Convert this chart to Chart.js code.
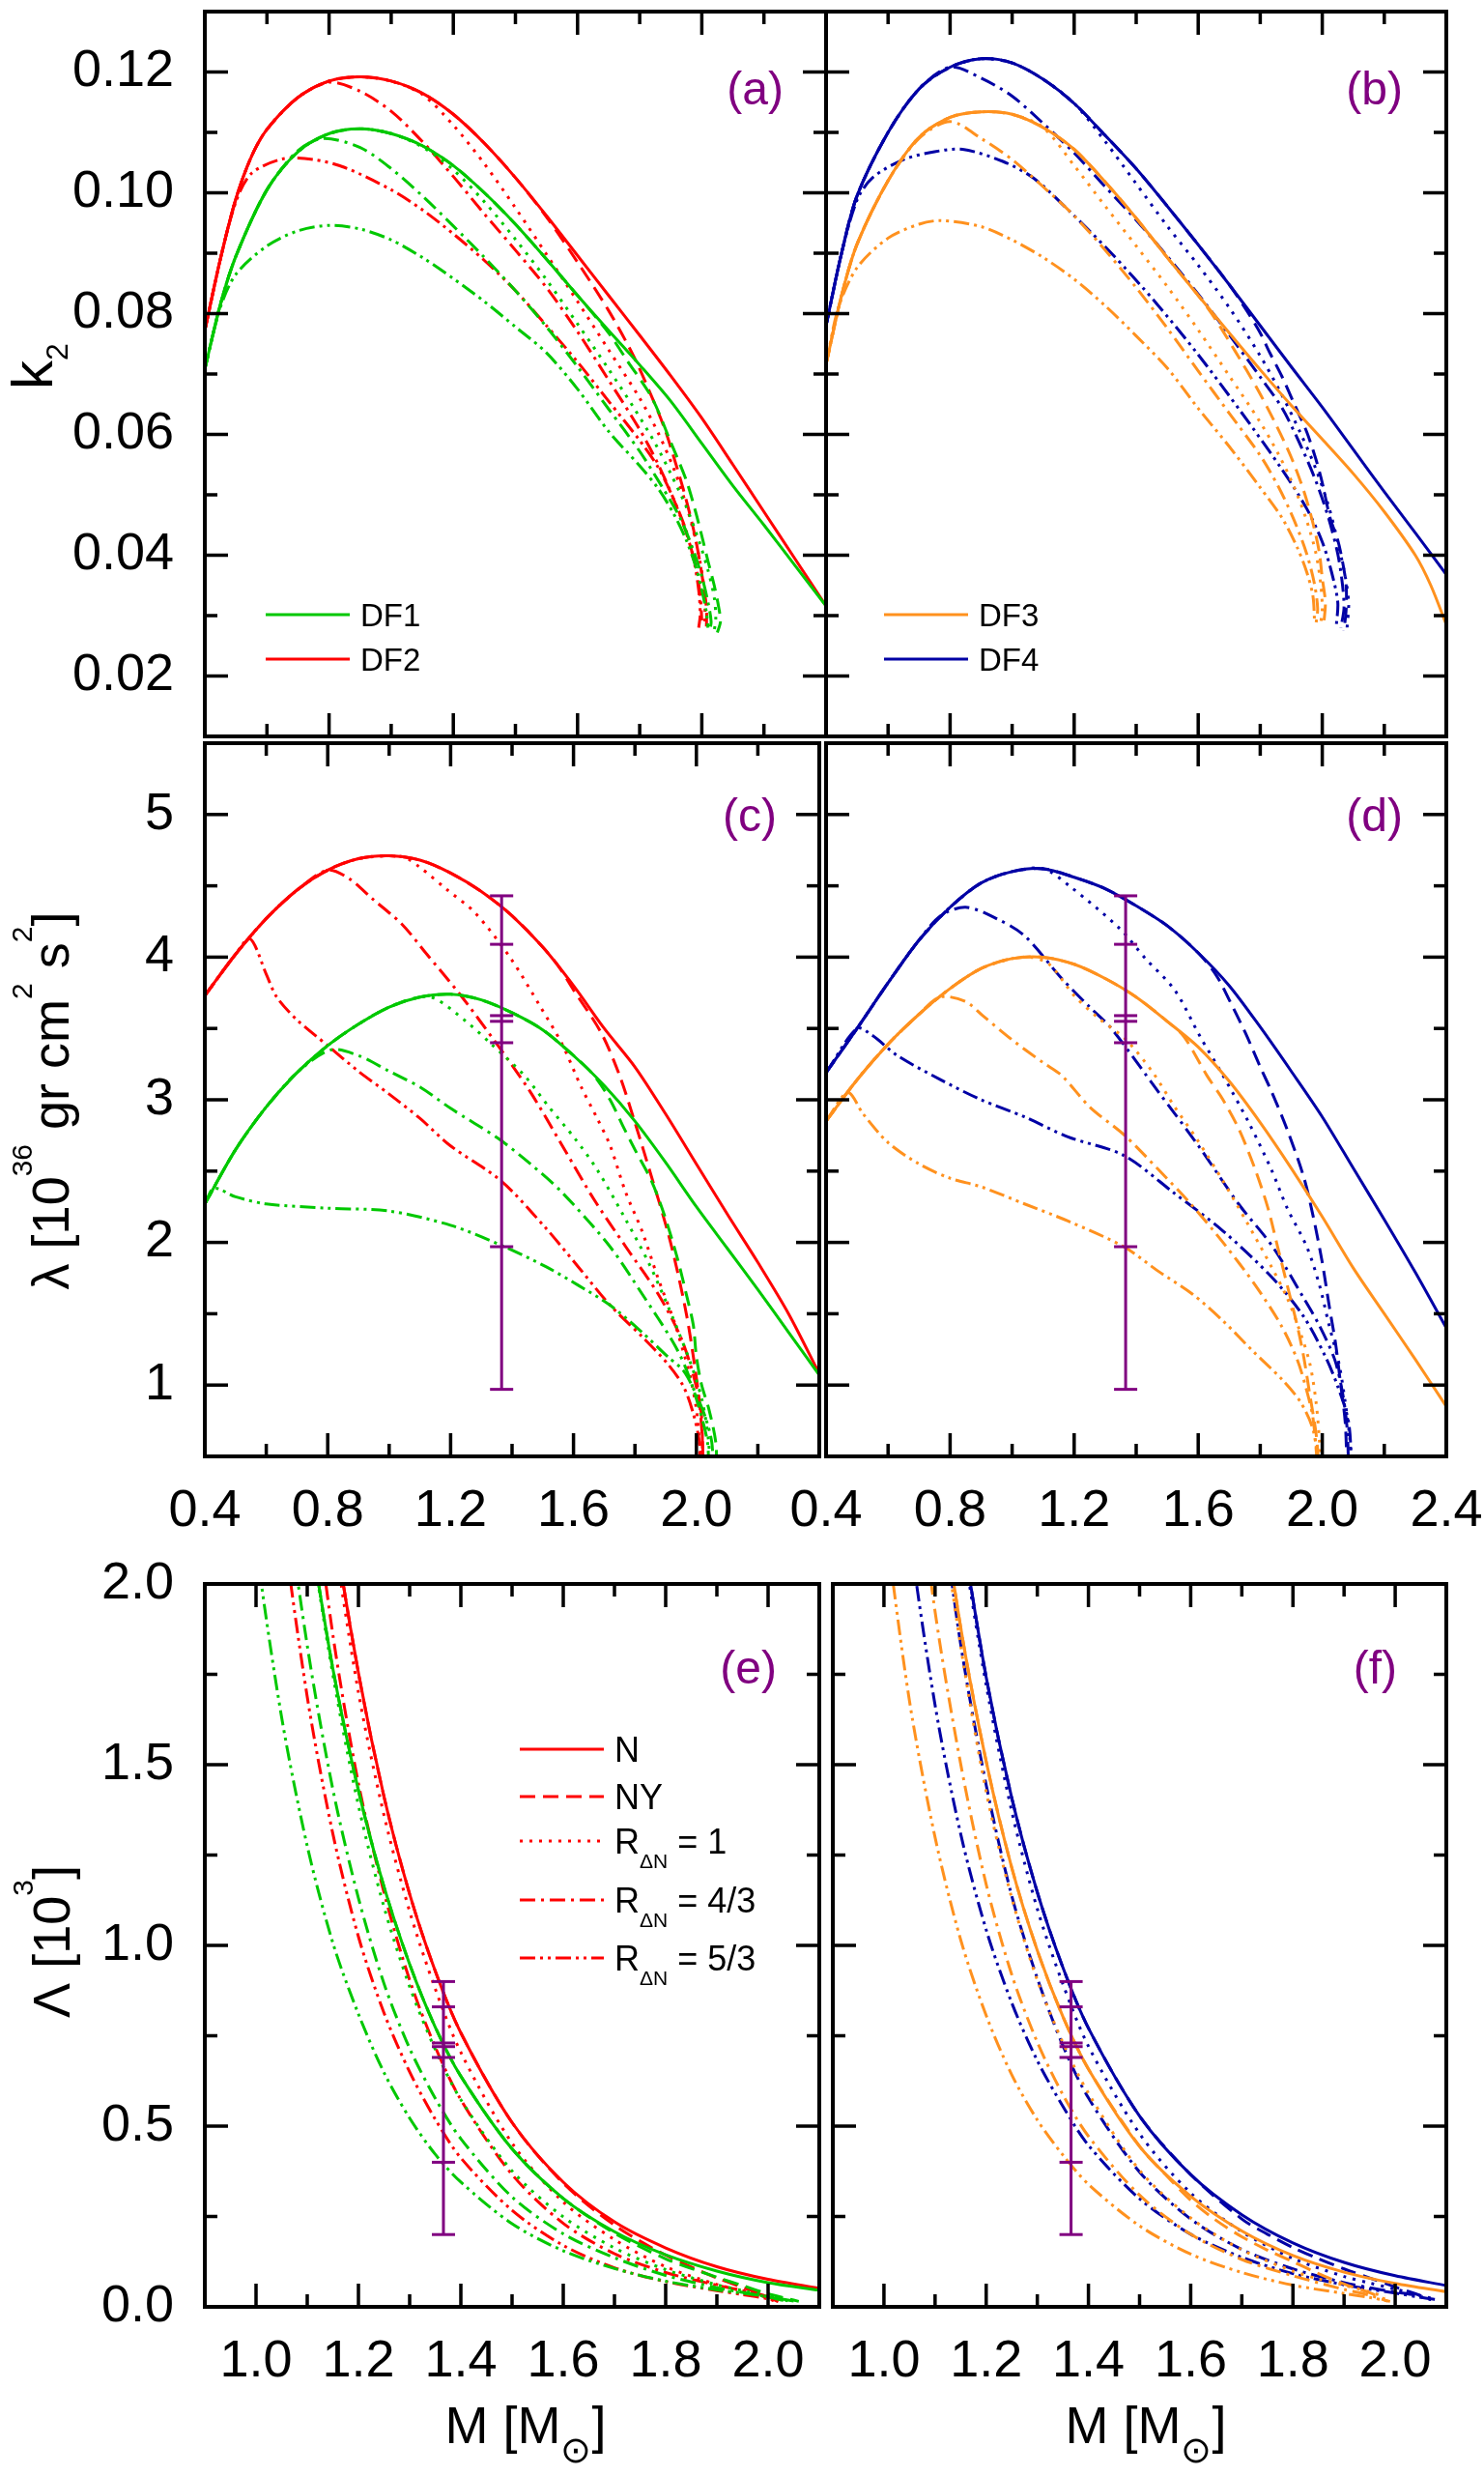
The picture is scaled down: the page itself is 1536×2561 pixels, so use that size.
<!DOCTYPE html>
<html>
<head>
<meta charset="utf-8">
<script src="https://cdn.jsdelivr.net/npm/chart.js@4.4.1/dist/chart.umd.min.js"></script>
<style>
  html, body { margin: 0; padding: 0; background: #fff; }
  #page { position: relative; width: 1536px; height: 2561px; background: #fff; overflow: hidden; }
  #page canvas { position: absolute; }
</style>
</head>
<body>
<div id="page"></div>
<script>
// ---------- values: [M, value] ----------

// (a) k2, DF1 (green) and DF2 (red)
const kDF1_N   = [[0.4,.0708],[0.45,.0815],[0.5,.0895],[0.6,.1005],[0.7,.1068],[0.8,.1098],[0.9,.1106],[1.0,.1098],[1.1,.1078],[1.2,.1045],[1.3,.1000],[1.4,.0948],[1.5,.0890],[1.6,.0830],[1.7,.0772],[1.8,.0715],[1.9,.0655],[2.0,.0585],[2.1,.0515],[2.2,.0450],[2.3,.0383],[2.4,.0316]];
const kDF1_NY  = [[0.4,.0708],[0.45,.0815],[0.5,.0895],[0.6,.1005],[0.7,.1068],[0.8,.1098],[0.9,.1106],[1.0,.1098],[1.1,.1078],[1.2,.1045],[1.3,.1000],[1.4,.0948],[1.5,.0890],[1.6,.0830],[1.7,.0768],[1.76,.0722],[1.84,.0660],[1.9,.0587],[1.95,.0524],[1.98,.0472],[2.0,.0432],[2.02,.0390],[2.04,.0350],[2.055,.0312],[2.06,.0290],[2.05,.0272]];
const kDF1_R1  = [[0.4,.0708],[0.45,.0815],[0.5,.0895],[0.6,.1005],[0.7,.1068],[0.8,.1098],[0.9,.1106],[1.0,.1098],[1.1,.1076],[1.2,.1038],[1.3,.0985],[1.4,.0923],[1.5,.0856],[1.6,.0783],[1.7,.0708],[1.78,.0645],[1.85,.0585],[1.9,.0535],[1.95,.0480],[1.99,.0425],[2.02,.0375],[2.04,.0330],[2.045,.0295],[2.04,.0275]];
const kDF1_R43 = [[0.4,.0708],[0.45,.0815],[0.5,.0895],[0.6,.1005],[0.7,.1070],[0.78,.1090],[0.9,.1075],[1.0,.1040],[1.1,.0995],[1.2,.0945],[1.3,.0893],[1.4,.0838],[1.5,.0778],[1.6,.0712],[1.7,.0642],[1.8,.0572],[1.87,.0515],[1.93,.0462],[1.97,.0412],[2.0,.0365],[2.02,.0322],[2.03,.0290],[2.025,.0275]];
const kDF1_R53 = [[0.4,.0708],[0.45,.0810],[0.5,.0865],[0.6,.0912],[0.7,.0937],[0.8,.0946],[0.9,.0940],[1.0,.0922],[1.1,.0893],[1.2,.0858],[1.3,.0820],[1.4,.0778],[1.5,.0735],[1.6,.0675],[1.7,.0605],[1.8,.0548],[1.86,.0510],[1.91,.0468],[1.95,.0425],[1.98,.0382],[2.0,.0342],[2.015,.0305],[2.02,.0280]];
const kDF2_N   = [[0.4,.0772],[0.45,.0890],[0.5,.0990],[0.55,.1060],[0.6,.1105],[0.7,.1158],[0.8,.1185],[0.9,.1192],[1.0,.1185],[1.1,.1165],[1.2,.1130],[1.3,.1082],[1.4,.1025],[1.5,.0962],[1.6,.0896],[1.7,.0830],[1.8,.0764],[1.9,.0697],[2.0,.0627],[2.1,.0550],[2.2,.0472],[2.3,.0394],[2.4,.0316]];
const kDF2_NY  = [[0.4,.0772],[0.45,.0890],[0.5,.0990],[0.55,.1060],[0.6,.1105],[0.7,.1158],[0.8,.1185],[0.9,.1192],[1.0,.1185],[1.1,.1165],[1.2,.1130],[1.3,.1082],[1.4,.1025],[1.5,.0960],[1.6,.0885],[1.7,.0805],[1.78,.0730],[1.84,.0661],[1.88,.0610],[1.91,.0562],[1.94,.0510],[1.97,.0450],[1.99,.0400],[2.005,.0352],[2.015,.0312],[2.015,.0282]];
const kDF2_R1  = [[0.4,.0772],[0.45,.0890],[0.5,.0990],[0.55,.1060],[0.6,.1105],[0.7,.1158],[0.8,.1185],[0.9,.1192],[1.0,.1185],[1.1,.1163],[1.2,.1112],[1.3,.1048],[1.4,.0975],[1.5,.0898],[1.6,.0820],[1.7,.0740],[1.8,.0660],[1.86,.0602],[1.91,.0543],[1.95,.0483],[1.98,.0425],[2.0,.0372],[2.01,.0330],[2.01,.0290]];
const kDF2_R43 = [[0.4,.0772],[0.45,.0890],[0.5,.0990],[0.55,.1060],[0.6,.1105],[0.7,.1158],[0.8,.1183],[0.9,.1168],[1.0,.1135],[1.1,.1085],[1.2,.1027],[1.3,.0965],[1.4,.0905],[1.5,.0843],[1.6,.0770],[1.7,.0690],[1.8,.0608],[1.86,.0550],[1.91,.0492],[1.95,.0437],[1.98,.0382],[1.995,.0333],[2.0,.0292]];
const kDF2_R53 = [[0.4,.0772],[0.45,.0890],[0.5,.0985],[0.55,.1032],[0.65,.1056],[0.75,.1055],[0.85,.1042],[1.0,.1005],[1.1,.0972],[1.2,.0932],[1.3,.0888],[1.4,.0838],[1.5,.0780],[1.6,.0720],[1.7,.0655],[1.8,.0590],[1.86,.0545],[1.91,.0492],[1.95,.0440],[1.975,.0390],[1.99,.0342],[1.995,.0302],[1.99,.0280]];

// (b) k2, DF3 (orange) and DF4 (blue)
const kDF3_N   = [[0.4,.0716],[0.45,.0830],[0.5,.0915],[0.6,.1020],[0.7,.1092],[0.8,.1125],[0.9,.1134],[1.0,.1130],[1.1,.1108],[1.2,.1072],[1.3,.1018],[1.4,.0958],[1.5,.0893],[1.6,.0830],[1.7,.0768],[1.8,.0707],[1.9,.0648],[2.0,.0592],[2.1,.0535],[2.2,.0472],[2.3,.0400],[2.35,.0350],[2.4,.0285]];
const kDF3_NY  = [[0.4,.0716],[0.45,.0830],[0.5,.0915],[0.6,.1020],[0.7,.1092],[0.8,.1125],[0.9,.1134],[1.0,.1130],[1.1,.1108],[1.2,.1072],[1.3,.1018],[1.4,.0958],[1.5,.0893],[1.6,.0830],[1.65,.0795],[1.72,.0737],[1.79,.0676],[1.85,.0617],[1.9,.0562],[1.94,.0507],[1.97,.0453],[1.99,.0406],[2.0,.0362],[2.01,.0322],[2.005,.0287]];
const kDF3_R1  = [[0.4,.0716],[0.45,.0830],[0.5,.0915],[0.6,.1020],[0.7,.1092],[0.8,.1125],[0.9,.1134],[1.0,.1130],[1.1,.1108],[1.2,.1045],[1.3,.0978],[1.4,.0912],[1.5,.0845],[1.6,.0773],[1.7,.0697],[1.8,.0620],[1.86,.0566],[1.91,.0512],[1.95,.0457],[1.98,.0402],[1.995,.0352],[2.0,.0312],[1.995,.0287]];
const kDF3_R43 = [[0.4,.0716],[0.45,.0830],[0.5,.0915],[0.6,.1020],[0.7,.1090],[0.8,.1118],[0.9,.1090],[1.0,.1055],[1.1,.1010],[1.2,.0962],[1.3,.0905],[1.4,.0843],[1.5,.0776],[1.6,.0705],[1.7,.0635],[1.8,.0565],[1.86,.0512],[1.91,.0457],[1.95,.0402],[1.975,.0352],[1.985,.0312],[1.98,.0287]];
const kDF3_R53 = [[0.4,.0716],[0.44,.0810],[0.5,.0876],[0.6,.0925],[0.7,.0948],[0.77,.0954],[0.9,.0944],[1.0,.0922],[1.1,.0893],[1.2,.0857],[1.3,.0813],[1.4,.0763],[1.5,.0710],[1.6,.0643],[1.7,.0580],[1.8,.0512],[1.87,.0462],[1.92,.0412],[1.95,.0372],[1.97,.0332],[1.975,.0292]];
const kDF4_N   = [[0.4,.0780],[0.45,.0900],[0.5,.0995],[0.6,.1100],[0.7,.1172],[0.8,.1208],[0.9,.1222],[1.0,.1215],[1.1,.1188],[1.2,.1148],[1.3,.1095],[1.4,.1040],[1.5,.0978],[1.6,.0914],[1.7,.0848],[1.8,.0780],[1.9,.0712],[2.0,.0645],[2.1,.0575],[2.2,.0505],[2.3,.0437],[2.4,.0368]];
const kDF4_NY  = [[0.4,.0780],[0.45,.0900],[0.5,.0995],[0.6,.1100],[0.7,.1172],[0.8,.1208],[0.9,.1222],[1.0,.1215],[1.1,.1188],[1.2,.1148],[1.3,.1095],[1.4,.1040],[1.5,.0978],[1.6,.0914],[1.7,.0848],[1.76,.0802],[1.8,.0768],[1.83,.0736],[1.87,.0696],[1.91,.0650],[1.95,.0604],[1.98,.0558],[2.0,.0520],[2.025,.0462],[2.05,.0425],[2.065,.0390],[2.077,.0350],[2.077,.0310],[2.07,.0275]];
const kDF4_R1  = [[0.4,.0780],[0.45,.0900],[0.5,.0995],[0.6,.1100],[0.7,.1172],[0.8,.1208],[0.9,.1222],[1.0,.1215],[1.1,.1188],[1.2,.1148],[1.3,.1085],[1.4,.1015],[1.5,.0945],[1.6,.0880],[1.7,.0810],[1.8,.0730],[1.87,.0665],[1.93,.0602],[1.98,.0542],[2.02,.0482],[2.05,.0422],[2.075,.0362],[2.085,.0320],[2.08,.0280]];
const kDF4_R43 = [[0.4,.0780],[0.45,.0900],[0.5,.0995],[0.6,.1100],[0.7,.1172],[0.8,.1208],[0.9,.1190],[1.0,.1160],[1.1,.1115],[1.2,.1066],[1.3,.1010],[1.4,.0955],[1.5,.0895],[1.6,.0832],[1.7,.0765],[1.8,.0695],[1.87,.0644],[1.93,.0582],[1.98,.0522],[2.02,.0462],[2.05,.0402],[2.065,.0352],[2.07,.0312],[2.06,.0280]];
const kDF4_R53 = [[0.4,.0780],[0.45,.0900],[0.5,.0988],[0.55,.1025],[0.65,.1055],[0.75,.1068],[0.84,.1072],[0.97,.1052],[1.07,.1024],[1.18,.0972],[1.32,.0900],[1.46,.0820],[1.6,.0732],[1.74,.0636],[1.87,.0542],[1.95,.0477],[2.0,.0422],[2.03,.0372],[2.05,.0322],[2.045,.0282]];

// (c) lambda [1e36 gr cm^2 s^2], DF1 / DF2
const lDF1_N   = [[0.4,2.27],[0.5,2.65],[0.6,2.95],[0.7,3.19],[0.8,3.38],[0.9,3.53],[1.0,3.65],[1.1,3.72],[1.2,3.74],[1.3,3.70],[1.4,3.61],[1.5,3.49],[1.6,3.31],[1.7,3.10],[1.8,2.85],[1.9,2.56],[2.0,2.25],[2.1,1.96],[2.2,1.67],[2.3,1.37],[2.4,1.07]];
const lDF1_NY  = [[0.4,2.27],[0.5,2.65],[0.6,2.95],[0.7,3.19],[0.8,3.38],[0.9,3.53],[1.0,3.65],[1.1,3.72],[1.2,3.74],[1.3,3.70],[1.4,3.61],[1.5,3.49],[1.6,3.31],[1.667,3.17],[1.719,3.00],[1.76,2.82],[1.80,2.65],[1.854,2.43],[1.896,2.19],[1.938,1.89],[1.969,1.62],[1.99,1.42],[2.0,1.20],[2.016,1.01],[2.042,0.82],[2.063,0.60],[2.066,0.40]];
const lDF1_R1  = [[0.4,2.27],[0.5,2.65],[0.6,2.95],[0.7,3.19],[0.8,3.38],[0.9,3.53],[1.0,3.65],[1.1,3.72],[1.15,3.71],[1.25,3.55],[1.333,3.39],[1.44,3.17],[1.52,2.95],[1.604,2.73],[1.677,2.51],[1.77,2.16],[1.844,1.86],[1.906,1.56],[1.948,1.34],[1.99,1.10],[2.02,0.88],[2.04,0.60],[2.043,0.40]];
const lDF1_R43 = [[0.4,2.27],[0.5,2.65],[0.6,2.95],[0.7,3.19],[0.81,3.35],[0.9,3.31],[1.0,3.20],[1.1,3.09],[1.2,2.94],[1.354,2.73],[1.46,2.55],[1.563,2.35],[1.719,1.97],[1.823,1.64],[1.927,1.29],[1.969,1.10],[2.01,0.83],[2.036,0.60],[2.04,0.40]];
const lDF1_R53 = [[0.4,2.27],[0.43,2.38],[0.5,2.32],[0.6,2.27],[0.8,2.24],[1.0,2.22],[1.2,2.12],[1.365,1.98],[1.51,1.83],[1.615,1.70],[1.719,1.56],[1.823,1.37],[1.906,1.20],[1.958,1.10],[2.0,0.93],[2.03,0.77],[2.05,0.60],[2.055,0.40]];
const lDF2_N   = [[0.4,3.73],[0.5,4.02],[0.6,4.27],[0.7,4.47],[0.8,4.61],[0.9,4.69],[1.0,4.71],[1.1,4.68],[1.2,4.59],[1.3,4.46],[1.4,4.29],[1.5,4.07],[1.6,3.80],[1.7,3.50],[1.8,3.23],[1.9,2.90],[2.0,2.55],[2.1,2.20],[2.2,1.86],[2.3,1.50],[2.4,1.08]];
const lDF2_NY  = [[0.4,3.73],[0.5,4.02],[0.6,4.27],[0.7,4.47],[0.8,4.61],[0.9,4.69],[1.0,4.71],[1.1,4.68],[1.2,4.59],[1.3,4.46],[1.4,4.29],[1.5,4.07],[1.55,3.94],[1.6,3.77],[1.69,3.47],[1.75,3.17],[1.8,2.84],[1.854,2.46],[1.906,2.08],[1.938,1.80],[1.969,1.48],[1.99,1.20],[2.01,0.88],[2.02,0.60],[2.022,0.40]];
const lDF2_R1  = [[0.4,3.73],[0.5,4.02],[0.6,4.27],[0.7,4.47],[0.8,4.61],[0.9,4.69],[1.0,4.71],[1.05,4.70],[1.1,4.63],[1.19,4.47],[1.28,4.31],[1.396,3.99],[1.49,3.66],[1.563,3.39],[1.625,3.09],[1.677,2.87],[1.719,2.68],[1.77,2.35],[1.823,2.08],[1.875,1.75],[1.927,1.45],[1.958,1.23],[1.979,1.07],[2.0,0.83],[2.01,0.60],[2.012,0.40]];
const lDF2_R43 = [[0.4,3.73],[0.5,4.02],[0.6,4.27],[0.7,4.47],[0.8,4.61],[0.87,4.55],[0.945,4.41],[1.042,4.23],[1.119,4.03],[1.23,3.74],[1.344,3.41],[1.458,3.06],[1.563,2.68],[1.667,2.30],[1.77,1.97],[1.875,1.64],[1.948,1.34],[1.99,1.07],[2.016,0.80],[2.02,0.40]];
const lDF2_R53 = [[0.4,3.73],[0.5,4.02],[0.547,4.13],[0.6,3.88],[0.634,3.72],[0.7,3.56],[0.8,3.38],[0.9,3.20],[1.0,3.04],[1.1,2.87],[1.198,2.68],[1.365,2.43],[1.51,2.10],[1.615,1.83],[1.719,1.56],[1.823,1.34],[1.906,1.15],[1.958,0.99],[1.99,0.80],[2.01,0.60],[2.015,0.40]];

// (d) lambda, DF3 / DF4
const lDF3_N   = [[0.4,2.85],[0.5,3.14],[0.6,3.39],[0.7,3.60],[0.8,3.78],[0.9,3.92],[1.0,3.99],[1.1,4.00],[1.2,3.95],[1.3,3.85],[1.4,3.72],[1.5,3.55],[1.6,3.37],[1.7,3.13],[1.8,2.84],[1.9,2.52],[2.0,2.18],[2.1,1.82],[2.2,1.50],[2.3,1.18],[2.4,0.85]];
const lDF3_NY  = [[0.4,2.85],[0.5,3.14],[0.6,3.39],[0.7,3.60],[0.8,3.78],[0.9,3.92],[1.0,3.99],[1.1,4.00],[1.2,3.95],[1.3,3.85],[1.4,3.72],[1.5,3.55],[1.555,3.44],[1.628,3.17],[1.68,3.00],[1.732,2.79],[1.784,2.51],[1.825,2.24],[1.856,1.97],[1.887,1.70],[1.919,1.42],[1.94,1.20],[1.96,0.93],[1.98,0.66],[1.99,0.40]];
const lDF3_R1  = [[0.4,2.85],[0.5,3.14],[0.6,3.39],[0.7,3.60],[0.8,3.78],[0.9,3.92],[1.0,3.99],[1.06,4.00],[1.12,3.95],[1.2,3.73],[1.28,3.57],[1.363,3.43],[1.451,3.20],[1.524,2.95],[1.597,2.72],[1.68,2.43],[1.752,2.16],[1.836,1.83],[1.887,1.61],[1.929,1.37],[1.96,1.15],[1.98,0.88],[1.991,0.60],[1.993,0.40]];
const lDF3_R43 = [[0.4,2.85],[0.5,3.14],[0.6,3.39],[0.7,3.60],[0.767,3.72],[0.849,3.69],[0.905,3.59],[1.0,3.42],[1.1,3.26],[1.16,3.17],[1.25,2.95],[1.363,2.75],[1.472,2.51],[1.576,2.27],[1.68,2.00],[1.784,1.70],[1.867,1.42],[1.919,1.18],[1.95,0.96],[1.97,0.77],[1.986,0.40]];
const lDF3_R53 = [[0.4,2.85],[0.47,3.05],[0.52,2.90],[0.6,2.70],[0.7,2.55],[0.8,2.45],[0.9,2.39],[1.04,2.27],[1.18,2.15],[1.36,1.97],[1.47,1.80],[1.58,1.64],[1.68,1.45],[1.78,1.23],[1.87,1.04],[1.93,0.88],[1.97,0.69],[1.99,0.40]];
const lDF4_N   = [[0.4,3.19],[0.5,3.50],[0.6,3.82],[0.7,4.12],[0.8,4.35],[0.9,4.52],[1.0,4.60],[1.1,4.62],[1.2,4.56],[1.3,4.48],[1.4,4.36],[1.5,4.22],[1.6,4.03],[1.7,3.80],[1.8,3.51],[1.9,3.20],[2.0,2.88],[2.1,2.52],[2.2,2.16],[2.3,1.79],[2.4,1.40]];
const lDF4_NY  = [[0.4,3.19],[0.5,3.50],[0.6,3.82],[0.7,4.12],[0.8,4.35],[0.9,4.52],[1.0,4.60],[1.1,4.62],[1.2,4.56],[1.3,4.48],[1.4,4.36],[1.5,4.22],[1.6,4.03],[1.659,3.87],[1.70,3.70],[1.752,3.47],[1.80,3.23],[1.836,3.06],[1.887,2.79],[1.94,2.46],[1.97,2.19],[2.0,1.86],[2.022,1.56],[2.043,1.29],[2.059,1.01],[2.074,0.74],[2.08,0.40]];
const lDF4_R1  = [[0.4,3.19],[0.5,3.50],[0.6,3.82],[0.7,4.12],[0.8,4.35],[0.9,4.52],[1.0,4.60],[1.1,4.62],[1.19,4.49],[1.347,4.20],[1.43,3.99],[1.524,3.77],[1.607,3.44],[1.68,3.17],[1.763,2.84],[1.836,2.51],[1.887,2.24],[1.95,1.97],[1.991,1.70],[2.022,1.42],[2.054,1.15],[2.074,0.88],[2.09,0.60],[2.092,0.40]];
const lDF4_R43 = [[0.4,3.19],[0.5,3.50],[0.6,3.82],[0.7,4.12],[0.77,4.29],[0.85,4.35],[0.95,4.27],[1.04,4.15],[1.16,3.85],[1.25,3.65],[1.32,3.50],[1.47,3.06],[1.6,2.68],[1.73,2.27],[1.84,1.97],[1.94,1.61],[1.99,1.42],[2.04,1.18],[2.065,0.95],[2.08,0.70],[2.085,0.40]];
const lDF4_R53 = [[0.4,3.19],[0.5,3.50],[0.55,3.45],[0.63,3.31],[0.77,3.14],[0.9,3.00],[1.04,2.88],[1.18,2.74],[1.36,2.61],[1.52,2.35],[1.68,2.08],[1.84,1.75],[1.94,1.48],[2.01,1.20],[2.05,0.99],[2.085,0.74],[2.095,0.40]];

// (e) Lambda [1e3], DF1 / DF2
const LDF1_N   = [[1.1,2.196],[1.15,1.766],[1.2,1.429],[1.25,1.162],[1.3,0.948],[1.35,0.774],[1.4,0.638],[1.5,0.437],[1.6,0.300],[1.7,0.208],[1.8,0.144],[1.9,0.099],[2.0,0.067],[2.1,0.046]];
const LDF1_NY  = [[1.1,2.196],[1.15,1.766],[1.2,1.429],[1.25,1.162],[1.3,0.948],[1.35,0.774],[1.4,0.638],[1.5,0.437],[1.6,0.300],[1.7,0.204],[1.8,0.133],[1.9,0.082],[1.95,0.059],[2.0,0.036],[2.04,0.022],[2.06,0.015]];
const LDF1_R1  = [[1.1,2.196],[1.15,1.749],[1.2,1.387],[1.25,1.106],[1.3,0.886],[1.35,0.712],[1.4,0.573],[1.5,0.376],[1.6,0.249],[1.7,0.163],[1.8,0.103],[1.9,0.061],[1.95,0.045],[2.0,0.030],[2.04,0.016]];
const LDF1_R43 = [[1.0,3.04],[1.05,2.35],[1.1,1.83],[1.15,1.432],[1.2,1.131],[1.25,0.894],[1.3,0.715],[1.35,0.577],[1.4,0.465],[1.5,0.304],[1.6,0.202],[1.7,0.136],[1.8,0.087],[1.9,0.053],[1.95,0.040],[2.0,0.027],[2.03,0.018]];
const LDF1_R53 = [[0.95,2.73],[1.0,2.11],[1.05,1.631],[1.1,1.275],[1.15,1.007],[1.2,0.810],[1.25,0.648],[1.3,0.522],[1.35,0.422],[1.4,0.345],[1.5,0.230],[1.6,0.155],[1.7,0.106],[1.8,0.071],[1.9,0.047],[1.95,0.038],[2.0,0.028],[2.05,0.016]];
const LDF2_N   = [[1.1,2.76],[1.15,2.19],[1.2,1.754],[1.25,1.411],[1.3,1.142],[1.35,0.929],[1.4,0.758],[1.5,0.510],[1.6,0.345],[1.7,0.235],[1.8,0.163],[1.9,0.111],[2.0,0.076],[2.1,0.051]];
const LDF2_NY  = [[1.1,2.76],[1.15,2.19],[1.2,1.754],[1.25,1.411],[1.3,1.142],[1.35,0.929],[1.4,0.758],[1.5,0.510],[1.6,0.342],[1.7,0.226],[1.8,0.143],[1.9,0.080],[1.95,0.054],[2.0,0.028],[2.02,0.014]];
const LDF2_R1  = [[1.1,2.74],[1.15,2.16],[1.2,1.70],[1.25,1.36],[1.3,1.094],[1.35,0.880],[1.4,0.704],[1.5,0.453],[1.6,0.290],[1.7,0.186],[1.8,0.111],[1.9,0.062],[1.95,0.044],[2.0,0.025],[2.01,0.018]];
const LDF2_R43 = [[1.1,2.41],[1.15,1.86],[1.2,1.448],[1.25,1.146],[1.3,0.904],[1.35,0.719],[1.4,0.573],[1.5,0.366],[1.6,0.231],[1.7,0.147],[1.8,0.095],[1.9,0.060],[1.95,0.045],[2.0,0.028],[2.02,0.014]];
const LDF2_R53 = [[1.0,2.89],[1.05,2.20],[1.1,1.688],[1.15,1.309],[1.2,1.024],[1.25,0.813],[1.3,0.650],[1.35,0.519],[1.4,0.412],[1.5,0.267],[1.6,0.170],[1.7,0.108],[1.8,0.070],[1.9,0.045],[1.95,0.034],[2.0,0.022],[2.015,0.015]];

// (f) Lambda [1e3], DF3 / DF4
const LDF3_N   = [[1.1,2.36],[1.15,1.881],[1.2,1.509],[1.25,1.215],[1.3,0.986],[1.35,0.803],[1.4,0.658],[1.5,0.444],[1.6,0.306],[1.7,0.210],[1.8,0.142],[1.9,0.096],[2.0,0.065],[2.1,0.042]];
const LDF3_NY  = [[1.1,2.36],[1.15,1.881],[1.2,1.509],[1.25,1.215],[1.3,0.986],[1.35,0.803],[1.4,0.658],[1.5,0.444],[1.55,0.367],[1.6,0.295],[1.65,0.239],[1.7,0.194],[1.75,0.157],[1.8,0.125],[1.85,0.092],[1.9,0.063],[1.95,0.039],[1.98,0.021]];
const LDF3_R1  = [[1.1,2.33],[1.15,1.829],[1.2,1.425],[1.25,1.131],[1.3,0.904],[1.35,0.731],[1.4,0.591],[1.5,0.378],[1.6,0.246],[1.7,0.158],[1.8,0.099],[1.85,0.077],[1.9,0.060],[1.95,0.041],[1.98,0.028]];
const LDF3_R43 = [[1.0,3.25],[1.05,2.49],[1.1,1.924],[1.15,1.503],[1.2,1.169],[1.25,0.919],[1.3,0.732],[1.35,0.587],[1.4,0.472],[1.5,0.309],[1.6,0.201],[1.7,0.131],[1.8,0.086],[1.9,0.048],[1.95,0.032],[1.985,0.016]];
const LDF3_R53 = [[1.0,2.196],[1.05,1.676],[1.1,1.299],[1.15,1.016],[1.2,0.806],[1.25,0.642],[1.3,0.517],[1.35,0.420],[1.4,0.339],[1.5,0.224],[1.6,0.146],[1.7,0.095],[1.8,0.060],[1.9,0.037],[1.95,0.026],[1.99,0.015]];
const LDF4_N   = [[1.15,2.17],[1.2,1.742],[1.25,1.408],[1.3,1.147],[1.35,0.939],[1.4,0.771],[1.5,0.528],[1.6,0.366],[1.7,0.255],[1.8,0.177],[1.9,0.123],[2.0,0.086],[2.1,0.059]];
const LDF4_NY  = [[1.15,2.17],[1.2,1.742],[1.25,1.408],[1.3,1.147],[1.35,0.939],[1.4,0.771],[1.5,0.528],[1.6,0.366],[1.7,0.243],[1.75,0.201],[1.8,0.164],[1.85,0.133],[1.9,0.105],[1.95,0.080],[2.0,0.055],[2.04,0.036],[2.07,0.020]];
const LDF4_R1  = [[1.15,2.15],[1.2,1.72],[1.25,1.371],[1.3,1.101],[1.35,0.893],[1.4,0.721],[1.5,0.479],[1.6,0.315],[1.7,0.208],[1.8,0.134],[1.9,0.084],[1.95,0.066],[2.0,0.049],[2.05,0.031],[2.075,0.022]];
const LDF4_R43 = [[1.1,2.36],[1.15,1.834],[1.2,1.444],[1.25,1.137],[1.3,0.909],[1.35,0.723],[1.4,0.578],[1.5,0.373],[1.6,0.243],[1.7,0.159],[1.8,0.105],[1.9,0.067],[1.95,0.053],[2.0,0.041],[2.04,0.032],[2.07,0.020]];
const LDF4_R53 = [[1.0,2.78],[1.05,2.145],[1.1,1.665],[1.15,1.309],[1.2,1.043],[1.25,0.841],[1.3,0.681],[1.35,0.555],[1.4,0.447],[1.5,0.299],[1.6,0.201],[1.7,0.137],[1.8,0.092],[1.9,0.061],[1.95,0.049],[2.0,0.038],[2.05,0.026],[2.085,0.019]];

// error bars at M = 1.366 (cap values)
const errMass = 1.366;
const lamCaps = [0.97, 1.97, 3.40, 3.55, 3.59, 4.09, 4.43];
const bigLamCaps = [0.20, 0.40, 0.69, 0.72, 0.73, 0.83, 0.90];

// axis tick values
const xMajorTop = [0.4, 0.8, 1.2, 1.6, 2.0, 2.4], xMinorTop = [0.6, 1.0, 1.4, 1.8, 2.2];
const xMajorBot = [1.0, 1.2, 1.4, 1.6, 1.8, 2.0], xMinorBot = [1.1, 1.3, 1.5, 1.7, 1.9];
const yMajorK2 = [0.02, 0.04, 0.06, 0.08, 0.10, 0.12], yMinorK2 = [0.03, 0.05, 0.07, 0.09, 0.11];
const yMajorLam = [1, 2, 3, 4, 5], yMinorLam = [1.5, 2.5, 3.5, 4.5];
const yMajorBig = [0.0, 0.5, 1.0, 1.5, 2.0], yMinorBig = [0.25, 0.75, 1.25, 1.75];

// ---------- styling ----------
const FONT = "'Liberation Sans', Arial, Helvetica, sans-serif";
Chart.defaults.font.family = FONT;
Chart.defaults.color = '#000';

const GREEN = 'rgb(0,200,0)', RED = 'rgb(255,0,0)', ORANGE = 'rgb(255,145,30)', BLUE = 'rgb(0,0,165)', PURPLE = 'rgb(128,0,128)';
const DASH = { N: [], NY: [16, 8], R1: [3, 7], R43: [16, 6, 3, 6], R53: [16, 5, 3, 5, 3, 5] };

function curve(pts, color, style) {
  return {
    data: pts.map(p => ({ x: p[0], y: p[1] })),
    showLine: true, borderColor: color, borderWidth: 3, borderDash: DASH[style],
    pointRadius: 0, tension: 0.3, order: 1
  };
}
function family(set, color) {
  return ['R53', 'R43', 'R1', 'NY', 'N'].map(s => curve(set[s], color, s));
}
function errorBar(caps) {
  return [
    { data: [{ x: errMass, y: Math.min(...caps) }, { x: errMass, y: Math.max(...caps) }],
      showLine: true, borderColor: PURPLE, borderWidth: 3, pointRadius: 0, order: 0 },
    { data: caps.map(v => ({ x: errMass, y: v })), showLine: false, pointStyle: 'line',
      pointRadius: 12, pointBorderColor: PURPLE, pointBorderWidth: 3, order: 0 }
  ];
}

function drawRich(ctx, parts, x, y, align) {
  let w = 0;
  parts.forEach(p => { ctx.font = p[1] + 'px ' + FONT; w += ctx.measureText(p[0]).width; });
  let cx = align === 'center' ? x - w / 2 : x;
  parts.forEach(p => {
    ctx.font = p[1] + 'px ' + FONT;
    ctx.fillText(p[0], cx, y + (p[2] || 0));
    cx += ctx.measureText(p[0]).width;
  });
}

// frame with inward ticks, panel tag, legend, axis titles
const panelDecor = {
  id: 'panelDecor',
  afterDraw(chart) {
    const o = chart.canvas._decor;
    const ctx = chart.ctx, a = chart.chartArea, xs = chart.scales.x, ys = chart.scales.y;
    ctx.save();
    ctx.fillStyle = '#000';
    const tw = 3.5;
    const xt = (list, len) => list.forEach(v => {
      if (v <= o.x.min + 1e-9 || v >= o.x.max - 1e-9) return;
      const px = xs.getPixelForValue(v);
      ctx.fillRect(px - tw / 2, a.bottom - len, tw, len);
      ctx.fillRect(px - tw / 2, a.top, tw, len);
    });
    const yt = (list, len) => list.forEach(v => {
      if (v <= o.y.min + 1e-9 || v >= o.y.max - 1e-9) return;
      const py = ys.getPixelForValue(v);
      ctx.fillRect(a.left, py - tw / 2, len, tw);
      ctx.fillRect(a.right - len, py - tw / 2, len, tw);
    });
    xt(o.x.major, 24); xt(o.x.minor, 13);
    yt(o.y.major, 24); yt(o.y.minor, 13);
    ctx.strokeStyle = '#000';
    ctx.setLineDash([]);
    ctx.lineWidth = 4;
    ctx.strokeRect(a.left, a.top, a.right - a.left, a.bottom - a.top);

    // panel tag
    ctx.fillStyle = PURPLE;
    ctx.font = '48px ' + FONT;
    ctx.textAlign = 'right';
    ctx.textBaseline = 'alphabetic';
    ctx.fillText(o.tag, a.right - o.tagDx, o.tagY - o.oy);
    ctx.textAlign = 'left';

    // legend
    if (o.legend) {
      const lg = o.legend;
      lg.rows.forEach(r => {
        ctx.strokeStyle = r.color;
        ctx.lineWidth = 3;
        ctx.setLineDash(DASH[r.style]);
        ctx.beginPath();
        ctx.moveTo(lg.x1 - o.ox, r.y - o.oy);
        ctx.lineTo(lg.x2 - o.ox, r.y - o.oy);
        ctx.stroke();
        ctx.fillStyle = '#000';
        drawRich(ctx, r.parts, lg.tx - o.ox, r.y - o.oy + lg.base, 'left');
      });
      ctx.setLineDash([]);
    }

    // axis titles
    ctx.fillStyle = '#000';
    (o.titles || []).forEach(t => {
      ctx.save();
      ctx.translate(t.x - o.ox, t.y - o.oy);
      if (t.rot) ctx.rotate(-Math.PI / 2);
      drawRich(ctx, t.parts, 0, 0, 'center');
      ctx.restore();
    });
    ctx.restore();
  }
};

function axis(a, size, horiz) {
  return {
    type: 'linear', min: a.min, max: a.max, bounds: 'data',
    grid: { display: false }, border: { display: false },
    afterBuildTicks: s => { s.ticks = (a.labels || []).map(v => ({ value: v })); },
    afterFit: s => {
      if (horiz) s.height = size; else s.width = size;
      s.paddingLeft = 0; s.paddingRight = 0; s.paddingTop = 0; s.paddingBottom = 0;
    },
    ticks: {
      display: !!a.labels, autoSkip: false, maxRotation: 0, minRotation: 0,
      padding: horiz ? 17 : 24, font: { size: 54 },
      callback: v => a.fmt ? a.fmt(v) : ''
    }
  };
}

function makePanel(p) {
  const [L, T, R, B] = p.box;
  const m = p.margin;
  const ox = L - m.l, oy = T - m.t;
  const w = m.l + (R - L) + m.r, h = m.t + (B - T) + m.b;
  const cv = document.createElement('canvas');
  cv.width = w; cv.height = h;
  cv.style.left = ox + 'px'; cv.style.top = oy + 'px';
  cv.style.width = w + 'px'; cv.style.height = h + 'px';
  cv._decor = Object.assign({ ox, oy }, p);
  document.getElementById('page').appendChild(cv);
  new Chart(cv.getContext('2d'), {
    type: 'scatter',
    data: { datasets: p.datasets },
    options: {
      responsive: false, animation: false, devicePixelRatio: 1, events: [],
      layout: { padding: { left: 0, top: m.t, right: m.r, bottom: 0 } },
      scales: { x: axis(p.x, m.b, true), y: axis(p.y, m.l, false) },
      plugins: { legend: { display: false }, tooltip: { enabled: false } }
    },
    plugins: [panelDecor]
  });
}

// ---------- build the six panels ----------
const fmt1 = v => v.toFixed(1), fmt2 = v => v.toFixed(2), fmt0 = v => String(Math.round(v));
const xTop = (labels) => ({ min: 0.4, max: 2.4, major: xMajorTop, minor: xMinorTop, labels, fmt: fmt1 });
const xBot = (labels) => ({ min: 0.9, max: 2.1, major: xMajorBot, minor: xMinorBot, labels, fmt: fmt1 });
const yK2 = (labels) => ({ min: 0.01, max: 0.13, major: yMajorK2, minor: yMinorK2, labels, fmt: fmt2 });
const yLam = (labels) => ({ min: 0.5, max: 5.5, major: yMajorLam, minor: yMinorLam, labels, fmt: fmt0 });
const yBig = (labels) => ({ min: 0, max: 2, major: yMajorBig, minor: yMinorBig, labels, fmt: fmt1 });

const SUP = -38, SUB = 16;

makePanel({
  box: [212, 12, 855, 762], margin: { l: 212, t: 12, r: 8, b: 8 },
  x: xTop(null), y: yK2(yMajorK2),
  datasets: family({ N: kDF1_N, NY: kDF1_NY, R1: kDF1_R1, R43: kDF1_R43, R53: kDF1_R53 }, GREEN)
    .concat(family({ N: kDF2_N, NY: kDF2_NY, R1: kDF2_R1, R43: kDF2_R43, R53: kDF2_R53 }, RED)),
  tag: '(a)', tagDx: 44, tagY: 108,
  legend: { x1: 275, x2: 362, tx: 373, base: 12, rows: [
    { y: 636, color: GREEN, style: 'N', parts: [['DF1', 33, 0]] },
    { y: 682, color: RED, style: 'N', parts: [['DF2', 33, 0]] } ] },
  titles: [{ x: 54, y: 379, rot: true, parts: [['k', 60, 0], ['2', 32, SUB]] }]
});

makePanel({
  box: [855, 12, 1497, 762], margin: { l: 8, t: 12, r: 8, b: 8 },
  x: xTop(null), y: yK2(null),
  datasets: family({ N: kDF3_N, NY: kDF3_NY, R1: kDF3_R1, R43: kDF3_R43, R53: kDF3_R53 }, ORANGE)
    .concat(family({ N: kDF4_N, NY: kDF4_NY, R1: kDF4_R1, R43: kDF4_R43, R53: kDF4_R53 }, BLUE)),
  tag: '(b)', tagDx: 45, tagY: 108,
  legend: { x1: 915, x2: 1002, tx: 1013, base: 12, rows: [
    { y: 636, color: ORANGE, style: 'N', parts: [['DF3', 33, 0]] },
    { y: 682, color: BLUE, style: 'N', parts: [['DF4', 33, 0]] } ] }
});

makePanel({
  box: [212, 762, 855, 1507], margin: { l: 212, t: 8, r: 8, b: 80 },
  x: xTop([0.4, 0.8, 1.2, 1.6, 2.0]), y: yLam(yMajorLam),
  datasets: errorBar(lamCaps)
    .concat(family({ N: lDF1_N, NY: lDF1_NY, R1: lDF1_R1, R43: lDF1_R43, R53: lDF1_R53 }, GREEN))
    .concat(family({ N: lDF2_N, NY: lDF2_NY, R1: lDF2_R1, R43: lDF2_R43, R53: lDF2_R53 }, RED)),
  tag: '(c)', tagDx: 44, tagY: 860,
  titles: [{ x: 71, y: 1139, rot: true, parts: [['\u03bb [10', 54, 0], ['36', 30, SUP], [' gr cm', 54, 0], ['2', 30, SUP], [' s', 54, 0], ['2', 30, SUP], [']', 54, 0]] }]
});

makePanel({
  box: [855, 762, 1497, 1507], margin: { l: 45, t: 8, r: 39, b: 80 },
  x: xTop(xMajorTop), y: yLam(null),
  datasets: errorBar(lamCaps)
    .concat(family({ N: lDF3_N, NY: lDF3_NY, R1: lDF3_R1, R43: lDF3_R43, R53: lDF3_R53 }, ORANGE))
    .concat(family({ N: lDF4_N, NY: lDF4_NY, R1: lDF4_R1, R43: lDF4_R43, R53: lDF4_R53 }, BLUE)),
  tag: '(d)', tagDx: 45, tagY: 860
});

makePanel({
  box: [212, 1639, 855, 2387], margin: { l: 212, t: 30, r: 8, b: 174 },
  x: xBot(xMajorBot), y: yBig(yMajorBig),
  datasets: errorBar(bigLamCaps)
    .concat(family({ N: LDF1_N, NY: LDF1_NY, R1: LDF1_R1, R43: LDF1_R43, R53: LDF1_R53 }, GREEN))
    .concat(family({ N: LDF2_N, NY: LDF2_NY, R1: LDF2_R1, R43: LDF2_R43, R53: LDF2_R53 }, RED)),
  tag: '(e)', tagDx: 44, tagY: 1742,
  legend: { x1: 538, x2: 625, tx: 636, base: 13, rows: [
    { y: 1810, color: RED, style: 'N', parts: [['N', 36, 0]] },
    { y: 1859, color: RED, style: 'NY', parts: [['NY', 36, 0]] },
    { y: 1905, color: RED, style: 'R1', parts: [['R', 36, 0], ['\u0394N', 21, 15], [' = 1', 36, 0]] },
    { y: 1966, color: RED, style: 'R43', parts: [['R', 36, 0], ['\u0394N', 21, 15], [' = 4/3', 36, 0]] },
    { y: 2026, color: RED, style: 'R53', parts: [['R', 36, 0], ['\u0394N', 21, 15], [' = 5/3', 36, 0]] } ] },
  titles: [
    { x: 72, y: 2009, rot: true, parts: [['\u039b [10', 54, 0], ['3', 30, SUP], [']', 54, 0]] },
    { x: 544, y: 2528, rot: false, parts: [['M [M', 54, 0], ['\u2299', 38, 20], [']', 54, 0]] }
  ]
});

makePanel({
  box: [855, 1639, 1497, 2387], margin: { l: 8, t: 30, r: 39, b: 174 },
  x: xBot(xMajorBot), y: yBig(null),
  datasets: errorBar(bigLamCaps)
    .concat(family({ N: LDF3_N, NY: LDF3_NY, R1: LDF3_R1, R43: LDF3_R43, R53: LDF3_R53 }, ORANGE))
    .concat(family({ N: LDF4_N, NY: LDF4_NY, R1: LDF4_R1, R43: LDF4_R43, R53: LDF4_R53 }, BLUE)),
  tag: '(f)', tagDx: 51, tagY: 1742,
  titles: [{ x: 1186, y: 2528, rot: false, parts: [['M [M', 54, 0], ['\u2299', 38, 20], [']', 54, 0]] }]
});
</script>
</body>
</html>
